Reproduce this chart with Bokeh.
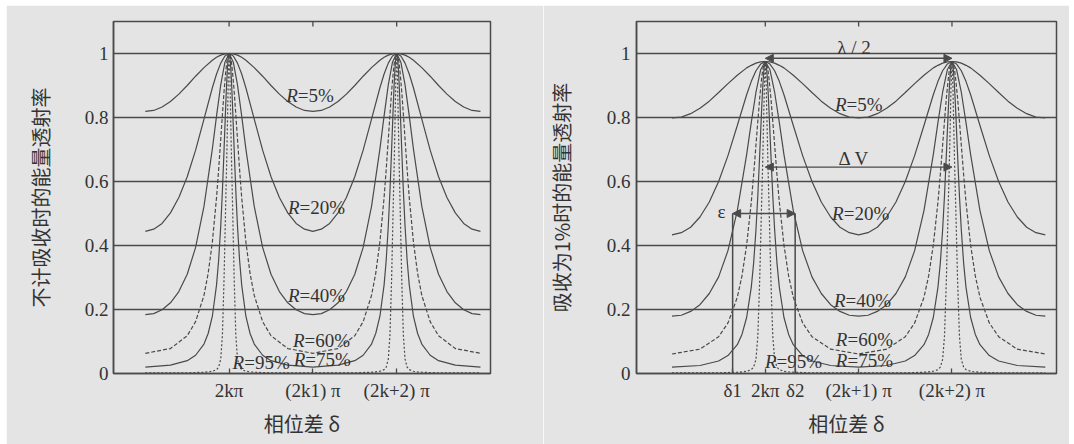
from math import pi
from bokeh.plotting import figure
from bokeh.models import (ColumnDataSource, FixedTicker, Range1d,
                          Arrow, NormalHead, Label, Spacer)
from bokeh.layouts import row, column
from bokeh.core.properties import value
from bokeh.embed import file_html
from bokeh.resources import INLINE

# ---------------- data (phase difference in units of pi, 2k*pi at 0) ----------------
X_BROAD = [-1.0, -0.9, -0.8, -0.7, -0.6, -0.5, -0.4, -0.3, -0.2, -0.15, -0.1, -0.05,
           0.0, 0.05, 0.1, 0.15, 0.2, 0.3, 0.4, 0.5, 0.6, 0.7, 0.8, 0.9, 1.0,
           1.1, 1.2, 1.3, 1.4, 1.5, 1.6, 1.7, 1.8, 1.85, 1.9, 1.95, 2.0,
           2.05, 2.1, 2.15, 2.2, 2.3, 2.4, 2.5, 2.6, 2.7, 2.8, 2.9, 3.0]

X_NARROW = [-1.0, -0.7, -0.5, -0.4, -0.3, -0.25, -0.2, -0.15, -0.125, -0.1, -0.08, -0.06, -0.04, -0.03, -0.02, -0.01,
            0.0, 0.01, 0.02, 0.03, 0.04, 0.06, 0.08, 0.1, 0.125, 0.15, 0.2, 0.25, 0.3, 0.4, 0.5, 0.7, 1.0,
            1.3, 1.5, 1.6, 1.7, 1.75, 1.8, 1.85, 1.875, 1.9, 1.92, 1.94, 1.96, 1.97, 1.98, 1.99, 2.0,
            2.01, 2.02, 2.03, 2.04, 2.06, 2.08, 2.1, 2.125, 2.15, 2.2, 2.25, 2.3, 2.4, 2.5, 2.7, 3.0]

# left panel: transmission without absorption
L_R5 = [0.819, 0.822, 0.833, 0.850, 0.873, 0.900, 0.929, 0.956, 0.979, 0.988, 0.995, 0.999,
        1.000, 0.999, 0.995, 0.988, 0.979, 0.956, 0.929, 0.900, 0.873, 0.850, 0.833, 0.822, 0.819,
        0.822, 0.833, 0.850, 0.873, 0.900, 0.929, 0.956, 0.979, 0.988, 0.995, 0.999, 1.000,
        0.999, 0.995, 0.988, 0.979, 0.956, 0.929, 0.900, 0.873, 0.850, 0.833, 0.822, 0.819]
L_R20 = [0.444, 0.451, 0.469, 0.502, 0.550, 0.615, 0.698, 0.795, 0.893, 0.936, 0.970, 0.992,
         1.000, 0.992, 0.970, 0.936, 0.893, 0.795, 0.698, 0.615, 0.550, 0.502, 0.469, 0.451, 0.444,
         0.451, 0.469, 0.502, 0.550, 0.615, 0.698, 0.795, 0.893, 0.936, 0.970, 0.992, 1.000,
         0.992, 0.970, 0.936, 0.893, 0.795, 0.698, 0.615, 0.550, 0.502, 0.469, 0.451, 0.444]
L_R40 = [0.184, 0.187, 0.199, 0.221, 0.256, 0.310, 0.394, 0.522, 0.702, 0.805, 0.902, 0.973,
         1.000, 0.973, 0.902, 0.805, 0.702, 0.522, 0.394, 0.310, 0.256, 0.221, 0.199, 0.187, 0.184,
         0.187, 0.199, 0.221, 0.256, 0.310, 0.394, 0.522, 0.702, 0.805, 0.902, 0.973, 1.000,
         0.973, 0.902, 0.805, 0.702, 0.522, 0.394, 0.310, 0.256, 0.221, 0.199, 0.187, 0.184]
L_R60 = [0.063, 0.078, 0.118, 0.162, 0.244, 0.313, 0.411, 0.550, 0.637, 0.732, 0.809, 0.883, 0.944, 0.968, 0.985, 0.996,
         1.000, 0.996, 0.985, 0.968, 0.944, 0.883, 0.809, 0.732, 0.637, 0.550, 0.411, 0.313, 0.244, 0.162, 0.118, 0.078, 0.063,
         0.078, 0.118, 0.162, 0.244, 0.313, 0.411, 0.550, 0.637, 0.732, 0.809, 0.883, 0.944, 0.968, 0.985, 0.996, 1.000,
         0.996, 0.985, 0.968, 0.944, 0.883, 0.809, 0.732, 0.637, 0.550, 0.411, 0.313, 0.244, 0.162, 0.118, 0.078, 0.063]
L_R75 = [0.020, 0.026, 0.040, 0.057, 0.092, 0.125, 0.179, 0.277, 0.354, 0.460, 0.570, 0.702, 0.841, 0.904, 0.955, 0.988,
         1.000, 0.988, 0.955, 0.904, 0.841, 0.702, 0.570, 0.460, 0.354, 0.277, 0.179, 0.125, 0.092, 0.057, 0.040, 0.026, 0.020,
         0.026, 0.040, 0.057, 0.092, 0.125, 0.179, 0.277, 0.354, 0.460, 0.570, 0.702, 0.841, 0.904, 0.955, 0.988, 1.000,
         0.988, 0.955, 0.904, 0.841, 0.702, 0.570, 0.460, 0.354, 0.277, 0.179, 0.125, 0.092, 0.057, 0.040, 0.026, 0.020]
L_R95 = [0.002, 0.002, 0.002, 0.003, 0.004, 0.005, 0.007, 0.012, 0.020, 0.045, 0.120, 0.300, 0.540, 0.650, 0.780, 0.920,
         1.000, 0.920, 0.780, 0.650, 0.540, 0.300, 0.120, 0.045, 0.020, 0.012, 0.007, 0.005, 0.004, 0.003, 0.002, 0.002, 0.002,
         0.002, 0.002, 0.003, 0.004, 0.005, 0.007, 0.012, 0.020, 0.045, 0.120, 0.300, 0.540, 0.650, 0.780, 0.920, 1.000,
         0.920, 0.780, 0.650, 0.540, 0.300, 0.120, 0.045, 0.020, 0.012, 0.007, 0.005, 0.004, 0.003, 0.002, 0.002, 0.002]

# right panel: transmission with 1% absorption
R_R5 = [0.799, 0.801, 0.812, 0.829, 0.851, 0.878, 0.906, 0.932, 0.955, 0.963, 0.970, 0.974,
        0.975, 0.974, 0.970, 0.963, 0.955, 0.932, 0.906, 0.878, 0.851, 0.829, 0.812, 0.801, 0.799,
        0.801, 0.812, 0.829, 0.851, 0.878, 0.906, 0.932, 0.955, 0.963, 0.970, 0.974, 0.975,
        0.974, 0.970, 0.963, 0.955, 0.932, 0.906, 0.878, 0.851, 0.829, 0.812, 0.801, 0.799]
R_R20 = [0.433, 0.440, 0.457, 0.489, 0.536, 0.600, 0.681, 0.775, 0.871, 0.913, 0.946, 0.967,
         0.975, 0.967, 0.946, 0.913, 0.871, 0.775, 0.681, 0.600, 0.536, 0.489, 0.457, 0.440, 0.433,
         0.440, 0.457, 0.489, 0.536, 0.600, 0.681, 0.775, 0.871, 0.913, 0.946, 0.967, 0.975,
         0.967, 0.946, 0.913, 0.871, 0.775, 0.681, 0.600, 0.536, 0.489, 0.457, 0.440, 0.433]
R_R40 = [0.179, 0.182, 0.194, 0.215, 0.250, 0.302, 0.384, 0.509, 0.684, 0.785, 0.879, 0.949,
         0.975, 0.949, 0.879, 0.785, 0.684, 0.509, 0.384, 0.302, 0.250, 0.215, 0.194, 0.182, 0.179,
         0.182, 0.194, 0.215, 0.250, 0.302, 0.384, 0.509, 0.684, 0.785, 0.879, 0.949, 0.975,
         0.949, 0.879, 0.785, 0.684, 0.509, 0.384, 0.302, 0.250, 0.215, 0.194, 0.182, 0.179]
R_R60 = [0.061, 0.076, 0.115, 0.158, 0.238, 0.305, 0.401, 0.536, 0.621, 0.714, 0.789, 0.861, 0.920, 0.944, 0.960, 0.971,
         0.975, 0.971, 0.960, 0.944, 0.920, 0.861, 0.789, 0.714, 0.621, 0.536, 0.401, 0.305, 0.238, 0.158, 0.115, 0.076, 0.061,
         0.076, 0.115, 0.158, 0.238, 0.305, 0.401, 0.536, 0.621, 0.714, 0.789, 0.861, 0.920, 0.944, 0.960, 0.971, 0.975,
         0.971, 0.960, 0.944, 0.920, 0.861, 0.789, 0.714, 0.621, 0.536, 0.401, 0.305, 0.238, 0.158, 0.115, 0.076, 0.061]
R_R75 = [0.020, 0.025, 0.039, 0.056, 0.090, 0.122, 0.175, 0.270, 0.345, 0.449, 0.556, 0.684, 0.820, 0.881, 0.931, 0.963,
         0.975, 0.963, 0.931, 0.881, 0.820, 0.684, 0.556, 0.449, 0.345, 0.270, 0.175, 0.122, 0.090, 0.056, 0.039, 0.025, 0.020,
         0.025, 0.039, 0.056, 0.090, 0.122, 0.175, 0.270, 0.345, 0.449, 0.556, 0.684, 0.820, 0.881, 0.931, 0.963, 0.975,
         0.963, 0.931, 0.881, 0.820, 0.684, 0.556, 0.449, 0.345, 0.270, 0.175, 0.122, 0.090, 0.056, 0.039, 0.025, 0.020]
R_R95 = [0.002, 0.002, 0.002, 0.003, 0.004, 0.005, 0.007, 0.012, 0.020, 0.044, 0.117, 0.293, 0.527, 0.634, 0.761, 0.897,
         0.975, 0.897, 0.761, 0.634, 0.527, 0.293, 0.117, 0.044, 0.020, 0.012, 0.007, 0.005, 0.004, 0.003, 0.002, 0.002, 0.002,
         0.002, 0.002, 0.003, 0.004, 0.005, 0.007, 0.012, 0.020, 0.044, 0.117, 0.293, 0.527, 0.634, 0.761, 0.897, 0.975,
         0.897, 0.761, 0.634, 0.527, 0.293, 0.117, 0.044, 0.020, 0.012, 0.007, 0.005, 0.004, 0.003, 0.002, 0.002, 0.002]

# curve labels ("R" italic + rest), anchor x is the join between "R" and "=..."
LABEL_REST = ["=5%", "=20%", "=40%", "=60%", "=75%", "=95%"]
L_LABEL_X = [0.82, 0.84, 0.84, 0.90, 0.91, 0.18]
L_LABEL_Y = [0.87, 0.52, 0.244, 0.103, 0.044, 0.033]
R_LABEL_X = [0.87, 0.84, 0.86, 0.88, 0.88, 0.12]
R_LABEL_Y = [0.84, 0.50, 0.228, 0.105, 0.041, 0.036]

Y_TICKS = [0, 0.2, 0.4, 0.6, 0.8, 1]
Y_TICK_LABELS = ["0", "0.2", "0.4", "0.6", "0.8", "1"]
L_X_TICKS = [0, 1, 2]
L_X_TICK_LABELS = ["2kπ", "(2k1) π", "(2k+2) π"]
DELTA1, DELTA2 = -0.35, 0.32
R_X_TICKS = [DELTA1, 0, DELTA2, 1, 2]
R_X_TICK_LABELS = ["δ1", "2kπ", "δ2", "(2k+1) π", "(2k+2) π"]
TOP_TICKS = [0, 1, 2]

LAMBDA_ARROW_Y = 0.985
DV_ARROW_Y = 0.645
EPS_ARROW_Y = 0.50
PEAK_POS = [0, 2]

BG = "#e4e4e4"
INK = "#4a4a4a"
TXT = "#333333"
SERIF = "Liberation Serif"
CJK = "Noto Sans CJK SC"
Y_TOP = 1.1


def panel(width, height, bl, br, bt, bb, ylabel, xticks, xlabels, ys, lx, ly,
          ylab_standoff, ytick_standoff):
    p = figure(width=width, height=height, output_backend="svg", toolbar_location=None,
               x_range=Range1d(-1.38, 3.12), y_range=Range1d(0, Y_TOP),
               min_border_left=bl, min_border_right=br, min_border_top=bt, min_border_bottom=bb,
               background_fill_color=BG, border_fill_color=BG)
    p.outline_line_color = INK
    p.outline_line_width = 1.5
    p.xgrid.visible = False
    p.ygrid.ticker = FixedTicker(ticks=Y_TICKS[1:])
    p.ygrid.grid_line_color = INK
    p.ygrid.grid_line_width = 1.5

    # y axis
    ya = p.yaxis[0]
    ya.ticker = FixedTicker(ticks=Y_TICKS)
    ya.major_label_overrides = {t: s for t, s in zip(Y_TICKS, Y_TICK_LABELS)}
    ya.major_tick_in = 0
    ya.major_tick_out = 0
    ya.minor_tick_in = 0
    ya.minor_tick_out = 0
    ya.axis_line_color = INK
    ya.axis_line_width = 1.5
    ya.major_label_standoff = ytick_standoff
    ya.major_label_text_font = SERIF
    ya.major_label_text_font_size = "19px"
    ya.major_label_text_color = TXT
    ya.axis_label = ylabel
    ya.axis_label_text_font = CJK
    ya.axis_label_text_font_style = "normal"
    ya.axis_label_text_font_size = "20px"
    ya.axis_label_text_color = TXT
    ya.axis_label_standoff = ylab_standoff

    # x axis
    xa = p.xaxis[0]
    xa.ticker = FixedTicker(ticks=xticks)
    xa.major_label_overrides = {t: s for t, s in zip(xticks, xlabels)}
    xa.major_tick_in = 5
    xa.major_tick_out = 0
    xa.major_tick_line_color = INK
    xa.major_tick_line_width = 1.3
    xa.minor_tick_in = 0
    xa.minor_tick_out = 0
    xa.axis_line_color = INK
    xa.axis_line_width = 1.5
    xa.major_label_standoff = 6
    xa.major_label_text_font = SERIF
    xa.major_label_text_font_size = "19px"
    xa.major_label_text_color = TXT
    xa.axis_label = "相位差 δ"
    xa.axis_label_text_font = CJK
    xa.axis_label_text_font_style = "normal"
    xa.axis_label_text_font_size = "20px"
    xa.axis_label_text_color = TXT
    xa.axis_label_standoff = 5

    # small inner tick marks on the top frame edge (clipped to the frame)
    p.scatter(x=TOP_TICKS, y=[Y_TOP] * len(TOP_TICKS), marker="dash", angle=pi / 2,
              size=10, line_color=INK, line_width=1.3)

    styles = [(X_BROAD, "solid"), (X_BROAD, "solid"), (X_BROAD, "solid"),
              (X_NARROW, "4 2"), (X_NARROW, "solid"), (X_NARROW, "2 2")]
    for (xs, dash), y in zip(styles, ys):
        p.line(xs, y, line_color=INK, line_width=1.2, line_dash=dash)

    src = ColumnDataSource(dict(x=lx, y=ly, rest=LABEL_REST))
    p.text(x="x", y="y", text=value("R"), source=src, text_font=value(SERIF),
           text_font_style="italic", text_font_size="19px", text_align="right",
           text_baseline="middle", text_color=TXT)
    p.text(x="x", y="y", text="rest", source=src, text_font=value(SERIF),
           text_font_size="19px", text_align="left", text_baseline="middle", text_color=TXT)
    return p


left = panel(537, 439, 107, 53, 16, 71, "不计吸收时的能量透射率", L_X_TICKS, L_X_TICK_LABELS,
             [L_R5, L_R20, L_R40, L_R60, L_R75, L_R95], L_LABEL_X, L_LABEL_Y, 27, 5)
right = panel(526, 439, 84, 13, 12, 71, "吸收为1%时的能量透射率", R_X_TICKS, R_X_TICK_LABELS,
              [R_R5, R_R20, R_R40, R_R60, R_R75, R_R95], R_LABEL_X, R_LABEL_Y, 28, 6)

# annotations on the right panel
def head():
    return NormalHead(size=8, fill_color=INK, line_color=INK)

for yy in (LAMBDA_ARROW_Y, DV_ARROW_Y):
    right.add_layout(Arrow(x_start=PEAK_POS[0], y_start=yy, x_end=PEAK_POS[1], y_end=yy,
                           start=head(), end=head(), line_color=INK, line_width=1.4))
right.add_layout(Arrow(x_start=DELTA1, y_start=EPS_ARROW_Y, x_end=DELTA2, y_end=EPS_ARROW_Y,
                       start=head(), end=head(), line_color=INK, line_width=1.4))
right.segment(x0=[DELTA1, DELTA2], y0=[0, 0], x1=[DELTA1, DELTA2], y1=[EPS_ARROW_Y, EPS_ARROW_Y],
              line_color=INK, line_width=1.5)

for txt, x, y in (("λ / 2", 0.95, 1.018), ("Δ V", 0.95, 0.672), ("ε", -0.47, 0.505)):
    right.add_layout(Label(x=x, y=y, text=txt, text_align="center", text_baseline="middle",
                           text_font=SERIF, text_font_size="19px", text_color=TXT))

layout = column(Spacer(height=5), row(Spacer(width=6), left, right))
open("out.html", "w").write(file_html(layout, INLINE))
